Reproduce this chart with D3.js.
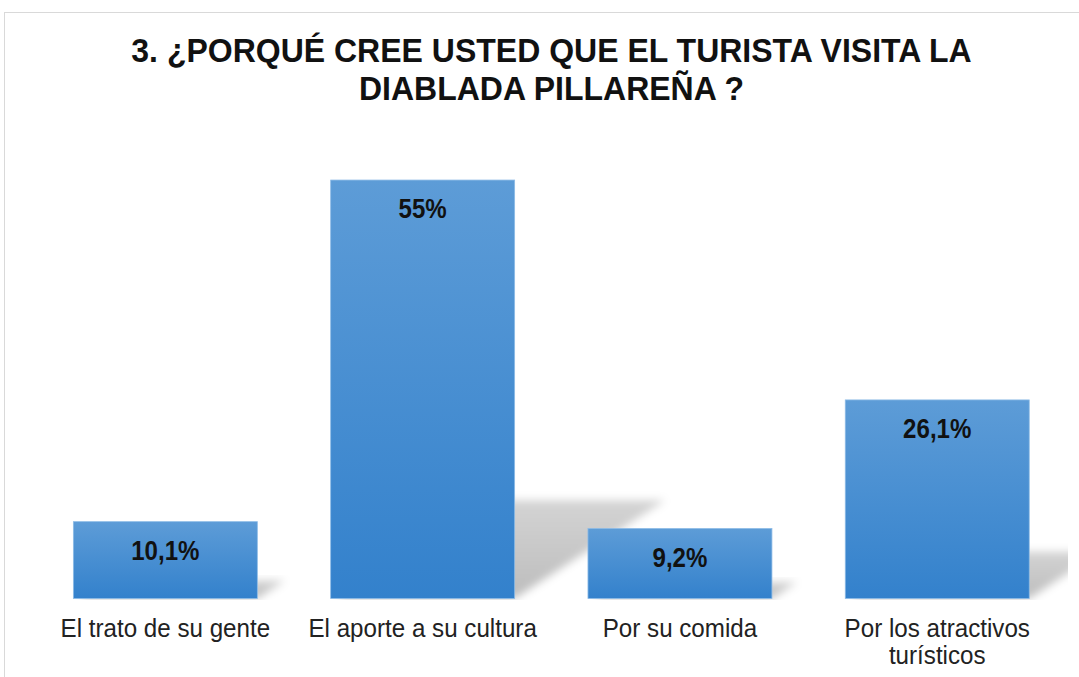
<!DOCTYPE html>
<html>
<head>
<meta charset="utf-8">
<script src="https://cdn.jsdelivr.net/npm/d3@7"></script>
<style>
  body { margin: 0; background: #fff; }
  svg { display: block; font-family: "Liberation Sans", Arial, sans-serif; }
</style>
</head>
<body>
<div id="chart"></div>
<script>
// chart data
var categories = ["El trato de su gente", "El aporte a su cultura", "Por su comida", "Por los atractivos turísticos"];
var values = [10.1, 55, 9.2, 26.1];
var valueLabels = ["10,1%", "55%", "9,2%", "26,1%"];
var titleLines = ["3. ¿PORQUÉ CREE USTED QUE EL  TURISTA VISITA LA", "DIABLADA PILLAREÑA ?"];

var svgWidth = 1079;
var svgHeight = 677;

var svg = d3.select("#chart")
  .append("svg")
  .attr("width", svgWidth)
  .attr("height", svgHeight);

var defs = svg.append("defs");

// bar gradient
var barGrad = defs.append("linearGradient")
  .attr("id", "barGrad")
  .attr("x1", 0).attr("y1", 0).attr("x2", 0).attr("y2", 1);
barGrad.append("stop").attr("offset", "0%").attr("stop-color", "#5d9cd7");
barGrad.append("stop").attr("offset", "100%").attr("stop-color", "#3381cc");

// shadow gradient (fades upward)
var shGrad = defs.append("linearGradient")
  .attr("id", "shGrad")
  .attr("x1", 0).attr("y1", 1).attr("x2", 0).attr("y2", 0);
shGrad.append("stop").attr("offset", "0%").attr("stop-color", "#000").attr("stop-opacity", 0.26);
shGrad.append("stop").attr("offset", "100%").attr("stop-color", "#000").attr("stop-opacity", 0.17);

defs.append("filter")
  .attr("id", "blur")
  .attr("x", "-30%").attr("y", "-30%").attr("width", "160%").attr("height", "160%")
  .append("feGaussianBlur")
  .attr("stdDeviation", 4.5);

defs.append("clipPath")
  .attr("id", "plotClip")
  .append("rect")
  .attr("x", 0).attr("y", 0).attr("width", 1068).attr("height", 600);

// chart frame
svg.append("rect")
  .attr("x", 4.5)
  .attr("y", 12.5)
  .attr("width", 1200)
  .attr("height", 800)
  .attr("fill", "#fff")
  .attr("stroke", "#d9d9d9")
  .attr("stroke-width", 1);

// scales
var xScale = d3.scaleBand()
  .domain(categories)
  .range([36.7, 1065.9])
  .paddingInner(0.285)
  .paddingOuter(0.1425);

var yScale = d3.scaleLinear()
  .domain([0, 60])
  .range([598.5, 142]);

var data = categories.map(function (c, i) {
  return { cat: c, value: values[i], label: valueLabels[i] };
});

// perspective shadows
var shadowSlope = 1.53;
var shadowRatio = 0.235;
svg.append("g")
  .attr("clip-path", "url(#plotClip)")
  .selectAll("path")
  .data(data)
  .enter()
  .append("path")
  .attr("d", function (d) {
    var x0 = xScale(d.cat), x1 = x0 + xScale.bandwidth();
    var base = yScale(0);
    var h = (base - yScale(d.value)) * shadowRatio;
    var dx = h * shadowSlope;
    return "M" + (x0 + 6) + "," + base +
      "L" + x1 + "," + base +
      "L" + (x1 + dx) + "," + (base - h) +
      "L" + (x0 + dx) + "," + (base - h) + "Z";
  })
  .attr("fill", "url(#shGrad)")
  .attr("filter", "url(#blur)");

// bars
svg.append("g")
  .selectAll("rect")
  .data(data)
  .enter()
  .append("rect")
  .attr("x", d => xScale(d.cat))
  .attr("y", d => yScale(d.value))
  .attr("width", xScale.bandwidth())
  .attr("height", d => yScale(0) - yScale(d.value))
  .attr("fill", "url(#barGrad)")
  .attr("stroke", "#8dbbe6")
  .attr("stroke-width", 0.8);

// value labels
var valSx = 0.86;
svg.append("g")
  .selectAll("text")
  .data(data)
  .enter()
  .append("text")
  .attr("transform", d => "translate(" + (xScale(d.cat) + xScale.bandwidth() / 2) + "," + (yScale(d.value) + 38) + ") scale(" + valSx + ",1)")
  .attr("text-anchor", "middle")
  .attr("font-size", 28)
  .attr("font-weight", "bold")
  .attr("fill", "#111")
  .text(d => d.label);

// category labels (wrapped)
var catSx = 0.93;
var catGroup = svg.append("g");
data.forEach(function (d) {
  var t = catGroup.append("text")
    .attr("transform", "translate(" + (xScale(d.cat) + xScale.bandwidth() / 2) + ",637) scale(" + catSx + ",1)")
    .attr("text-anchor", "middle")
    .attr("font-size", 26)
    .attr("fill", "#222");
  var words = d.cat.split(" ");
  var lines = [];
  var line = [];
  var probe = t.append("tspan");
  words.forEach(function (w) {
    line.push(w);
    probe.text(line.join(" "));
    if (probe.node().getComputedTextLength() * catSx > 235 && line.length > 1) {
      line.pop();
      lines.push(line.join(" "));
      line = [w];
    }
  });
  lines.push(line.join(" "));
  probe.remove();
  lines.forEach(function (l, i) {
    t.append("tspan")
      .attr("x", 0)
      .attr("y", i * 27)
      .text(l);
  });
});

// title
var titleSx = 0.97;
svg.append("g")
  .selectAll("text")
  .data(titleLines)
  .enter()
  .append("text")
  .attr("transform", (d, i) => "translate(551.5," + (62 + i * 38) + ") scale(" + titleSx + ",1)")
  .attr("text-anchor", "middle")
  .attr("font-size", 33)
  .attr("font-weight", "bold")
  .attr("fill", "#111")
  .text(d => d);
</script>
</body>
</html>
